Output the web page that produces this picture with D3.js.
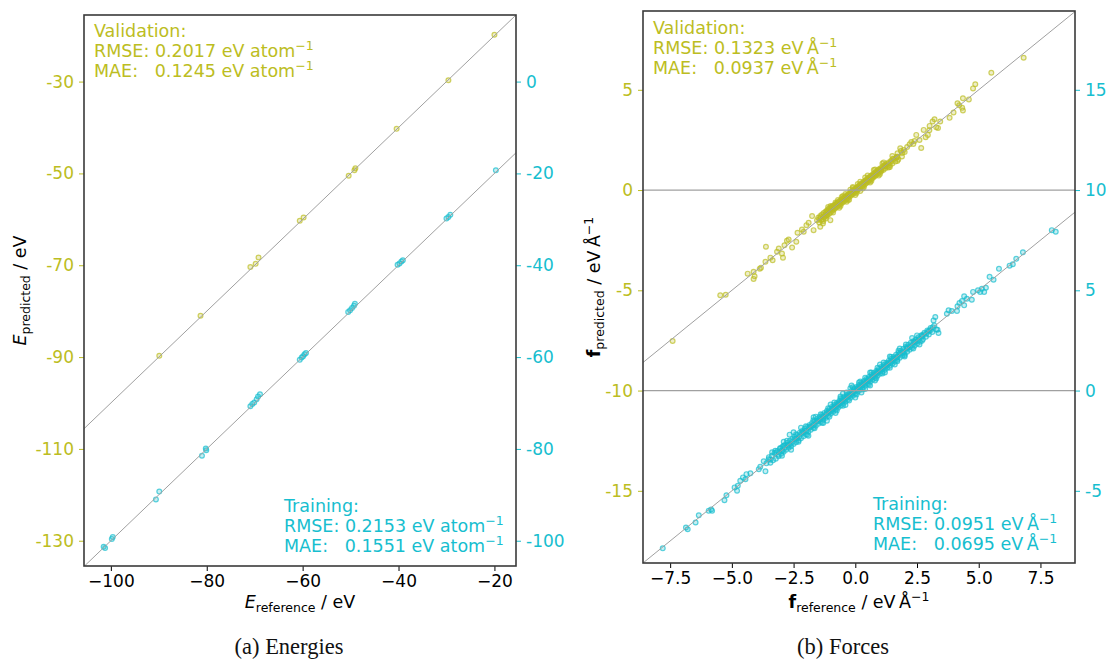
<!DOCTYPE html>
<html>
<head>
<meta charset="utf-8">
<script src="https://cdn.jsdelivr.net/npm/d3@7"></script>
<style>
  body { margin: 0; background: #fff; }
  svg { font-family: "DejaVu Sans", sans-serif; }
  .pre { white-space: pre; }
</style>
</head>
<body>
<svg id="chart" width="1106" height="659"></svg>
<script>
const OLIVE = "#bcbd22";
const CYAN = "#17becf";

// ---- energies (eV), [reference, predicted] ----
const energyValidation = [
  [-20.0, -19.8], [-29.6, -29.7], [-40.4, -40.3], [-50.4, -50.5], [-49.2, -49.3], [-49.0, -48.9],
  [-60.6, -60.3], [-59.8, -59.6], [-70.9, -70.4], [-69.8, -69.7], [-69.2, -68.3],
  [-81.3, -81.0], [-89.9, -89.7]
];
const energyTraining = [
  [-19.7, -19.3], [-30.0, -29.8], [-29.6, -29.5], [-29.2, -29.0],
  [-40.2, -39.9], [-39.8, -39.6], [-39.4, -39.2], [-39.1, -38.9],
  [-50.5, -50.2], [-50.1, -49.8], [-49.7, -49.3], [-49.3, -48.8], [-49.1, -48.4],
  [-60.6, -60.6], [-60.2, -60.1], [-59.9, -59.8], [-59.6, -59.4], [-59.3, -59.1],
  [-70.9, -70.7], [-70.5, -70.2], [-70.1, -69.9], [-69.6, -69.2], [-69.3, -68.6], [-68.9, -68.1],
  [-81.0, -81.5], [-80.1, -80.3], [-80.2, -79.9],
  [-90.6, -91.0], [-89.9, -89.3],
  [-99.6, -99.2], [-99.8, -99.6], [-101.5, -101.3], [-101.2, -101.6]
];
const energyLeftTicks = [-130, -110, -90, -70, -50, -30];
const energyRightTicks = [-100, -80, -60, -40, -20, 0];
const energyXTicks = [-100, -80, -60, -40, -20];

// ---- forces (eV/Å), [reference, predicted] ----
const forceValidation = [
  [6.82, 6.60], [5.51, 5.85], [4.86, 5.28], [4.77, 5.07], [4.60, 4.52], [4.36, 4.58],
  [4.14, 4.33], [4.21, 4.23], [4.33, 4.10], [4.36, 3.97], [3.98, 3.87], [3.82, 3.60],
  [3.44, 3.42], [3.21, 3.53], [3.13, 3.42], [3.28, 3.13], [3.35, 3.10], [3.01, 3.20],
  [2.77, 3.00], [3.00, 2.98], [2.94, 2.75], [2.85, 2.63], [2.47, 2.75], [2.67, 2.10],
  [2.27, 2.40], [1.96, 2.00], [1.82, 2.08], [1.71, 1.83], [1.89, 1.67],
  [-7.40, -7.53], [-5.47, -5.25], [-5.25, -5.22], [-4.36, -4.17], [-4.12, -4.08],
  [-4.08, -4.30], [-4.12, -4.43], [-3.87, -3.92], [-3.82, -3.87], [-3.62, -2.83],
  [-3.64, -3.58], [-3.44, -3.37], [-3.35, -3.50], [-3.17, -3.08], [-3.10, -2.92],
  [-2.93, -3.37], [-2.97, -3.17], [-2.87, -2.75], [-2.77, -2.53], [-2.70, -2.47],
  [-2.56, -2.87], [-2.39, -2.58], [-2.34, -2.13], [-2.16, -1.97], [-2.09, -2.08],
  [-1.98, -1.75], [-1.89, -1.63], [-1.75, -1.30], [-1.69, -2.00], [-1.55, -1.50],
  [-1.42, -1.83], [-1.31, -1.67], [-1.15, -1.25], [-1.01, -1.50], [-0.94, -0.83], [-0.74, -0.67],
  [-1.50, -1.38], [-1.46, -1.62], [-1.42, -1.30], [-1.38, -1.50], [-1.35, -1.22], [-1.31, -1.45],
  [-1.28, -1.15], [-1.25, -1.36], [-1.21, -1.08], [-1.18, -1.30], [-1.15, -1.02], [-1.12, -1.25],
  [-1.09, -0.95], [-1.06, -1.18], [-1.03, -0.90], [-1.00, -1.12], [-0.97, -0.86], [-0.94, -1.05],
  [-0.91, -0.80], [-0.88, -0.98], [-0.85, -0.74], [-0.82, -0.92], [-0.79, -0.70], [-0.76, -0.85],
  [-0.73, -0.62], [-0.70, -0.80], [-0.67, -0.58], [-0.64, -0.74], [-0.61, -0.52], [-0.58, -0.68],
  [-0.55, -0.46], [-0.52, -0.62], [-0.49, -0.40], [-0.46, -0.57], [-0.43, -0.35], [-0.40, -0.50],
  [-0.37, -0.30], [-0.34, -0.45], [-0.31, -0.24], [-0.28, -0.38], [-0.25, -0.18], [-0.22, -0.32],
  [-0.19, -0.12], [-0.16, -0.26], [-0.13, -0.06], [-0.10, -0.20], [-0.07, 0.00], [-0.04, -0.14],
  [-0.01, 0.06], [0.02, -0.08], [0.05, 0.12], [0.08, -0.02], [0.11, 0.18], [0.14, 0.05],
  [0.17, 0.24], [0.20, 0.10], [0.23, 0.30], [0.26, 0.16], [0.29, 0.36], [0.32, 0.22],
  [0.35, 0.42], [0.38, 0.28], [0.41, 0.48], [0.44, 0.34], [0.47, 0.54], [0.50, 0.40],
  [0.53, 0.60], [0.56, 0.46], [0.59, 0.66], [0.62, 0.52], [0.65, 0.72], [0.68, 0.58],
  [0.71, 0.78], [0.74, 0.64], [0.77, 0.84], [0.80, 0.70], [0.83, 0.90], [0.86, 0.76],
  [0.89, 0.96], [0.92, 0.82], [0.95, 1.02], [0.98, 0.88], [1.01, 1.08], [1.05, 0.94],
  [1.09, 1.15], [1.13, 1.00], [1.17, 1.22], [1.21, 1.08], [1.25, 1.30], [1.30, 1.16],
  [1.35, 1.38], [1.40, 1.24], [1.45, 1.46], [1.50, 1.32], [1.56, 1.55], [1.62, 1.42],
  [1.68, 1.65], [1.74, 1.52],
  [-1.20, -1.20], [-0.90, -0.88], [-0.60, -0.60], [-0.45, -0.44], [-0.30, -0.30], [-0.15, -0.16],
  [-0.05, -0.04], [0.00, 0.00], [0.06, 0.05], [0.12, 0.12], [0.25, 0.24], [0.40, 0.40],
  [0.55, 0.55], [0.70, 0.70], [0.85, 0.84], [1.00, 1.00], [1.20, 1.18], [-0.80, -0.62],
  [-0.50, -0.30], [-0.20, 0.02], [0.10, 0.30], [0.40, 0.62], [0.75, 1.00], [-0.65, -0.88],
  [-0.35, -0.58], [0.00, -0.25], [0.30, 0.08], [0.60, 0.38], [0.95, 0.72], [-1.00, -0.80],
  [-1.30, -1.55], [1.10, 1.32], [1.40, 1.15], [-0.10, 0.15], [0.20, -0.05], [-0.55, -0.35],
  [-0.25, -0.48],
  [-1.45, -1.45], [-1.30, -1.32], [-1.15, -1.12], [-1.00, -0.98], [-0.85, -0.88], [-0.72, -0.70],
  [-0.58, -0.57], [-0.48, -0.50], [-0.38, -0.36], [-0.28, -0.27], [-0.18, -0.20], [-0.08, -0.06],
  [0.03, 0.02], [0.13, 0.15], [0.22, 0.20], [0.32, 0.33], [0.45, 0.44], [0.58, 0.60],
  [0.72, 0.70], [0.88, 0.90], [1.05, 1.04], [1.25, 1.22], [1.45, 1.42], [1.65, 1.60],
  [1.90, 1.85], [2.10, 2.15], [2.35, 2.30], [2.60, 2.50],
  [-1.10, -0.85], [-0.70, -0.50], [-0.40, -0.20], [-0.10, 0.10], [0.20, 0.42], [0.50, 0.72],
  [0.80, 1.02], [1.15, 1.38], [1.50, 1.70],
  [-1.20, -1.42], [-0.90, -1.12], [-0.60, -0.80], [-0.30, -0.50], [0.05, -0.15], [0.35, 0.15],
  [0.65, 0.45], [1.00, 0.80], [1.35, 1.12], [1.70, 1.45],
  [-1.40, -1.36], [-1.25, -1.28], [-1.10, -1.06], [-0.95, -0.98], [-0.80, -0.76], [-0.66, -0.70],
  [-0.52, -0.48], [-0.40, -0.44], [-0.26, -0.22], [-0.14, -0.18], [-0.02, 0.02], [0.09, 0.06],
  [0.20, 0.24], [0.30, 0.26], [0.42, 0.46], [0.54, 0.50], [0.66, 0.70], [0.78, 0.74],
  [0.92, 0.96], [1.06, 1.02], [1.20, 1.24], [1.36, 1.32], [1.52, 1.56], [1.70, 1.66],
  [1.85, 1.95], [2.00, 1.90], [2.20, 2.28], [2.40, 2.45]
];
const forceTraining = [
  [7.96, 8.00], [8.12, 7.92], [6.79, 6.90], [6.52, 6.57], [6.38, 6.30], [6.25, 6.23],
  [5.82, 6.07], [5.44, 5.67], [5.60, 5.53], [5.29, 5.13], [5.13, 5.08], [5.06, 4.92],
  [4.97, 5.00], [4.77, 4.92], [5.22, 4.92], [4.72, 4.53], [4.52, 4.58], [4.41, 4.70],
  [4.32, 4.47], [4.41, 4.25], [4.22, 4.37], [4.14, 4.20], [4.12, 3.97], [3.91, 3.97],
  [3.78, 4.00], [3.71, 3.83], [3.37, 2.87], [3.33, 3.03], [3.24, 3.67], [3.17, 3.50],
  [-7.80, -7.87], [-6.86, -6.83], [-6.79, -6.92], [-6.47, -6.58], [-6.34, -6.22],
  [-5.94, -6.00], [-5.84, -5.93], [-5.80, -6.00], [-5.30, -5.47], [-5.22, -5.22],
  [-4.89, -4.83], [-4.79, -5.00], [-4.76, -4.75], [-4.66, -4.50], [-4.55, -4.33],
  [-4.41, -4.17], [-4.45, -4.42], [-4.25, -4.13], [-3.91, -3.92], [-3.85, -3.80],
  [-3.64, -4.03], [-3.60, -3.63], [-3.51, -3.42], [-3.71, -3.53], [-3.37, -3.08],
  [-3.24, -3.00], [-3.04, -2.87], [-2.97, -3.25], [-2.90, -2.75], [-2.66, -2.20],
  [-2.77, -2.50], [-2.50, -2.08], [-1.69, -1.33], [-1.15, -1.50],
  [-3.50, -3.32], [-3.44, -3.60], [-3.38, -3.25], [-3.33, -3.48], [-3.27, -3.12], [-3.22, -3.40],
  [-3.16, -3.02], [-3.11, -3.28], [-3.05, -2.90], [-3.00, -3.15], [-2.95, -2.80], [-2.90, -3.05],
  [-2.85, -2.72], [-2.80, -2.95], [-2.75, -2.60], [-2.70, -2.85], [-2.65, -2.50], [-2.60, -2.78],
  [-2.55, -2.42], [-2.50, -2.66], [-2.45, -2.30], [-2.40, -2.58], [-2.35, -2.22], [-2.30, -2.48],
  [-2.25, -2.10], [-2.20, -2.38], [-2.15, -2.02], [-2.10, -2.28], [-2.05, -1.90], [-2.00, -2.18],
  [-1.95, -1.82], [-1.90, -2.06], [-1.85, -1.72], [-1.80, -1.96], [-1.75, -1.62], [-1.70, -1.86],
  [-1.65, -1.52], [-1.60, -1.76], [-1.55, -1.42], [-1.50, -1.66], [-1.45, -1.32], [-1.40, -1.56],
  [-1.35, -1.22], [-1.30, -1.46], [-1.25, -1.12], [-1.20, -1.36], [-1.15, -1.02], [-1.10, -1.26],
  [-1.05, -0.92], [-1.00, -1.16], [-0.95, -0.82], [-0.90, -1.06], [-0.85, -0.72], [-0.80, -0.96],
  [-0.75, -0.62], [-0.70, -0.86], [-0.65, -0.52], [-0.60, -0.76], [-0.55, -0.42], [-0.50, -0.66],
  [-0.45, -0.32], [-0.40, -0.56], [-0.35, -0.22], [-0.30, -0.46], [-0.25, -0.12], [-0.20, -0.36],
  [-0.15, -0.02], [-0.10, -0.26], [-0.05, 0.08], [0.00, -0.16], [0.05, 0.18], [0.10, -0.06],
  [0.15, 0.28], [0.20, 0.04], [0.25, 0.38], [0.30, 0.14], [0.35, 0.48], [0.40, 0.24],
  [0.45, 0.58], [0.50, 0.34], [0.55, 0.68], [0.60, 0.44], [0.65, 0.78], [0.70, 0.54],
  [0.75, 0.88], [0.80, 0.64], [0.85, 0.98], [0.90, 0.74], [0.95, 1.08], [1.00, 0.84],
  [1.05, 1.18], [1.10, 0.94], [1.15, 1.28], [1.20, 1.04], [1.25, 1.38], [1.30, 1.14],
  [1.35, 1.48], [1.40, 1.24], [1.45, 1.58], [1.50, 1.34], [1.55, 1.68], [1.60, 1.44],
  [1.65, 1.78], [1.70, 1.54], [1.75, 1.88], [1.80, 1.64], [1.85, 1.98], [1.90, 1.74],
  [1.95, 2.08], [2.00, 1.84], [2.05, 2.18], [2.10, 1.94], [2.15, 2.28], [2.20, 2.04],
  [2.25, 2.38], [2.30, 2.14], [2.35, 2.46], [2.40, 2.24], [2.45, 2.55], [2.50, 2.34],
  [2.56, 2.66], [2.62, 2.44], [2.68, 2.76], [2.74, 2.56], [2.80, 2.88], [2.86, 2.68],
  [2.92, 3.00], [2.98, 2.80], [3.05, 3.12], [3.12, 2.92], [3.20, 3.25], [3.28, 3.05],
  [-3.0, -3.0], [-2.7, -2.7], [-2.4, -2.4], [-2.1, -2.1], [-1.8, -1.8], [-1.5, -1.5],
  [-1.3, -1.3], [-1.1, -1.1], [-0.9, -0.9], [-0.7, -0.7], [-0.5, -0.5], [-0.3, -0.3],
  [-0.1, -0.1], [0.1, 0.1], [0.3, 0.3], [0.5, 0.5], [0.7, 0.7], [0.9, 0.9],
  [1.1, 1.1], [1.3, 1.3], [1.5, 1.5], [1.7, 1.7], [1.9, 1.9], [2.1, 2.1],
  [2.4, 2.4], [2.7, 2.7], [3.0, 3.0],
  [-2.9, -2.55], [-2.2, -1.85], [-1.6, -1.3], [-1.0, -0.7], [-0.6, -0.3], [-0.2, 0.12],
  [0.2, 0.45], [0.6, 0.9], [1.0, 1.3], [1.4, 1.7], [1.8, 2.1], [2.3, 2.62],
  [-2.6, -2.95], [-1.9, -2.25], [-1.3, -1.62], [-0.8, -1.12], [-0.4, -0.72], [0.0, -0.35],
  [0.4, 0.08], [0.8, 0.5], [1.2, 0.9], [1.6, 1.3], [2.0, 1.7], [2.6, 2.3],
  [-0.15, 0.25], [0.25, -0.1], [-0.5, -0.15], [0.6, 0.25],
  [-3.45, -3.45], [-3.20, -3.10], [-2.95, -3.00], [-2.75, -2.75], [-2.55, -2.55], [-2.35, -2.38],
  [-2.18, -2.14], [-2.02, -2.00], [-1.88, -1.86], [-1.72, -1.74], [-1.58, -1.55], [-1.44, -1.45],
  [-1.32, -1.28], [-1.18, -1.20], [-1.06, -1.02], [-0.96, -0.98], [-0.84, -0.80], [-0.74, -0.78],
  [-0.64, -0.60], [-0.54, -0.56], [-0.44, -0.40], [-0.34, -0.36], [-0.24, -0.20], [-0.14, -0.17],
  [-0.04, 0.00], [0.06, 0.03], [0.16, 0.20], [0.26, 0.24], [0.36, 0.40], [0.46, 0.44],
  [0.56, 0.60], [0.66, 0.64], [0.76, 0.80], [0.86, 0.84], [0.96, 1.00], [1.06, 1.04],
  [1.16, 1.20], [1.26, 1.24], [1.36, 1.40], [1.46, 1.44], [1.56, 1.60], [1.68, 1.66],
  [1.82, 1.84], [1.96, 1.94], [2.12, 2.15], [2.28, 2.25], [2.44, 2.46], [2.60, 2.58],
  [2.78, 2.80], [2.96, 2.94], [3.14, 3.16],
  [-2.4, -2.18], [-2.0, -1.78], [-1.7, -1.48], [-1.4, -1.18], [-1.1, -0.88], [-0.85, -0.60],
  [-0.6, -0.38], [-0.35, -0.10], [-0.1, 0.16], [0.15, 0.40], [0.4, 0.64], [0.65, 0.90],
  [0.9, 1.14], [1.15, 1.40], [1.45, 1.68], [1.75, 1.98], [2.05, 2.30], [2.5, 2.75],
  [-2.3, -2.55], [-1.95, -2.20], [-1.65, -1.88], [-1.35, -1.60], [-1.05, -1.30], [-0.75, -1.00],
  [-0.5, -0.76], [-0.25, -0.50], [0.05, -0.20], [0.3, 0.05], [0.55, 0.30], [0.85, 0.60],
  [1.1, 0.85], [1.4, 1.14], [1.7, 1.46], [2.0, 1.76], [2.35, 2.10], [2.7, 2.48],
  [-3.10, -3.20], [-2.85, -2.85], [-2.62, -2.66], [-2.45, -2.42], [-2.28, -2.30], [-2.12, -2.08],
  [-1.98, -2.02], [-1.84, -1.80], [-1.68, -1.70], [-1.54, -1.50], [-1.42, -1.40], [-1.28, -1.32],
  [-1.16, -1.14], [-1.02, -1.06], [-0.92, -0.90], [-0.82, -0.85], [-0.72, -0.68], [-0.62, -0.66],
  [-0.52, -0.48], [-0.42, -0.46], [-0.32, -0.28], [-0.22, -0.26], [-0.12, -0.08], [-0.02, -0.06],
  [0.08, 0.12], [0.18, 0.14], [0.28, 0.32], [0.38, 0.34], [0.48, 0.52], [0.58, 0.54],
  [0.68, 0.72], [0.78, 0.74], [0.88, 0.92], [0.98, 0.94], [1.08, 1.12], [1.18, 1.14],
  [1.30, 1.34], [1.42, 1.38], [1.54, 1.58], [1.66, 1.62], [1.80, 1.84], [1.94, 1.90],
  [2.08, 2.12], [2.22, 2.18], [2.38, 2.42], [2.54, 2.50], [2.70, 2.74], [2.88, 2.84], [3.06, 3.02]
];
const forceLeftTicks = [-15, -10, -5, 0, 5];
const forceRightTicks = [-5, 0, 5, 10, 15];
const forceXTicks = [-7.5, -5.0, -2.5, 0.0, 2.5, 5.0, 7.5];

const svg = d3.select("#chart");

function subLabel(sel, main, mainStyle, sub, rest, sup) {
  sel.append("tspan").text(main).attr("font-style", mainStyle.italic ? "italic" : null)
    .attr("font-weight", mainStyle.bold ? "bold" : null);
  sel.append("tspan").text(sub).attr("font-size", 12.5).attr("dy", 4);
  sel.append("tspan").text(rest).attr("dy", -4);
  if (sup) sel.append("tspan").text(sup).attr("font-size", 12.5).attr("dy", -7);
}

function statsBlock(g, x, y, color, title, rmse, mae, unit) {
  const t = g.append("text").attr("fill", color).attr("font-size", 17.5).attr("class", "pre");
  t.append("tspan").attr("x", x).attr("y", y).text(title);
  [["RMSE: ", rmse], ["MAE:   ", mae]].forEach(([k, v], i) => {
    t.append("tspan").attr("x", x).attr("y", y + 20 * (i + 1)).text(k + v + " " + unit);
    t.append("tspan").attr("font-size", 12.5).attr("dy", -7).text("\u22121");
  });
}

function panel(cfg) {
  const x = d3.scaleLinear().domain(cfg.xDomain).range([cfg.left, cfg.right]);
  const yL = d3.scaleLinear().domain(cfg.yLDomain).range([cfg.bottom, cfg.top]);
  const yR = d3.scaleLinear().domain(cfg.yRDomain).range([cfg.bottom, cfg.top]);
  const g = svg.append("g");

  g.append("clipPath").attr("id", cfg.id + "-clip").append("rect")
    .attr("x", cfg.left).attr("y", cfg.top)
    .attr("width", cfg.right - cfg.left).attr("height", cfg.bottom - cfg.top);
  const plot = g.append("g").attr("clip-path", `url(#${cfg.id}-clip)`);

  plot.append("g").selectAll("circle").data(cfg.validation).join("circle")
    .attr("cx", d => x(d[0])).attr("cy", d => yL(d[1])).attr("r", 2.4)
    .attr("fill", OLIVE).attr("fill-opacity", 0.25)
    .attr("stroke", OLIVE).attr("stroke-width", 1.2).attr("stroke-opacity", 0.7);
  plot.append("g").selectAll("circle").data(cfg.training).join("circle")
    .attr("cx", d => x(d[0])).attr("cy", d => yR(d[1])).attr("r", 2.4)
    .attr("fill", CYAN).attr("fill-opacity", 0.25)
    .attr("stroke", CYAN).attr("stroke-width", 1.2).attr("stroke-opacity", 0.7);

  // zero lines
  if (cfg.zeroLines) {
    [yL(0), yR(0)].forEach(yy => {
      plot.append("line").attr("x1", cfg.left).attr("x2", cfg.right)
        .attr("y1", yy).attr("y2", yy).attr("stroke", "#a0a0a0").attr("stroke-width", 1.3);
    });
  }
  // identity lines, drawn over the markers
  const xd = x.domain();
  [yL, yR].forEach(ys => {
    plot.append("line")
      .attr("x1", x(xd[0])).attr("y1", ys(xd[0]))
      .attr("x2", x(xd[1])).attr("y2", ys(xd[1]))
      .attr("stroke", "#a0a0a0").attr("stroke-width", 1);
  });

  // axes
  const ax = g.append("g").attr("transform", `translate(0,${cfg.bottom})`)
    .call(d3.axisBottom(x).tickValues(cfg.xTicks).tickFormat(cfg.xFormat).tickSize(5).tickPadding(4));
  ax.selectAll("text").attr("font-size", 17).attr("font-family", "DejaVu Sans").attr("fill", "#000");
  ax.selectAll("line").attr("stroke", "#000");

  const al = g.append("g").attr("transform", `translate(${cfg.left},0)`)
    .call(d3.axisLeft(yL).tickValues(cfg.yLTicks).tickFormat(d => String(d)).tickSize(5).tickPadding(5));
  al.selectAll("text").attr("font-size", 17).attr("font-family", "DejaVu Sans").attr("fill", OLIVE);
  al.selectAll("line").attr("stroke", OLIVE);

  const ar = g.append("g").attr("transform", `translate(${cfg.right},0)`)
    .call(d3.axisRight(yR).tickValues(cfg.yRTicks).tickFormat(d => String(d)).tickSize(5).tickPadding(5));
  ar.selectAll("text").attr("font-size", 17).attr("font-family", "DejaVu Sans").attr("fill", CYAN);
  ar.selectAll("line").attr("stroke", CYAN);

  [ax, al, ar].forEach(a => a.select(".domain").remove());
  g.append("rect").attr("x", cfg.left).attr("y", cfg.top)
    .attr("width", cfg.right - cfg.left).attr("height", cfg.bottom - cfg.top)
    .attr("fill", "none").attr("stroke", "#3a3a3a").attr("stroke-width", 1.6);

  // labels
  const cx = (cfg.left + cfg.right) / 2, cy = (cfg.top + cfg.bottom) / 2;
  const xl = g.append("text").attr("x", cx).attr("y", 608).attr("text-anchor", "middle")
    .attr("font-size", 17.5).attr("fill", "#000");
  subLabel(xl, cfg.sym, cfg.symStyle, "reference", cfg.unitText, cfg.unitSup);
  const yl = g.append("text").attr("transform", `translate(${cfg.yLabelX},${cy}) rotate(-90)`)
    .attr("text-anchor", "middle").attr("font-size", 17.5).attr("fill", "#000");
  subLabel(yl, cfg.sym, cfg.symStyle, "predicted", cfg.unitText, cfg.unitSup);

  statsBlock(g, cfg.valText[0], cfg.valText[1], OLIVE, "Validation:", cfg.valStats[0], cfg.valStats[1], cfg.statUnit);
  statsBlock(g, cfg.trainText[0], cfg.trainText[1], CYAN, "Training:", cfg.trainStats[0], cfg.trainStats[1], cfg.statUnit);

  svg.append("text").attr("x", cfg.captionX).attr("y", 654).attr("text-anchor", "middle")
    .attr("font-family", "Liberation Serif, serif").attr("font-size", 22.5).attr("fill", "#111")
    .text(cfg.caption);
}

panel({
  id: "energy", left: 84, right: 516, top: 15, bottom: 566,
  xDomain: [-105.6, -15.5], yLDomain: [-135.5, -15.5], yRDomain: [-105.5, 14.5],
  xTicks: energyXTicks, yLTicks: energyLeftTicks, yRTicks: energyRightTicks,
  xFormat: d3.format("d"),
  validation: energyValidation, training: energyTraining, zeroLines: false,
  sym: "E", symStyle: { italic: true }, unitText: " / eV", unitSup: null, yLabelX: 26,
  valText: [94, 37], trainText: [284, 512],
  valStats: ["0.2017", "0.1245"], trainStats: ["0.2153", "0.1551"], statUnit: "eV atom",
  caption: "(a) Energies", captionX: 289
});

panel({
  id: "force", left: 643, right: 1075, top: 11, bottom: 563,
  xDomain: [-8.6, 8.9], yLDomain: [-18.6, 8.93], yRDomain: [-8.6, 18.93],
  xTicks: forceXTicks, yLTicks: forceLeftTicks, yRTicks: forceRightTicks,
  xFormat: d3.format(".1f"),
  validation: forceValidation, training: forceTraining, zeroLines: true,
  sym: "f", symStyle: { bold: true }, unitText: " / eV\u2009Å", unitSup: "\u22121", yLabelX: 600,
  valText: [653, 34], trainText: [873, 510],
  valStats: ["0.1323", "0.0937"], trainStats: ["0.0951", "0.0695"], statUnit: "eV\u2009Å",
  caption: "(b) Forces", captionX: 843
});
</script>
</body>
</html>
